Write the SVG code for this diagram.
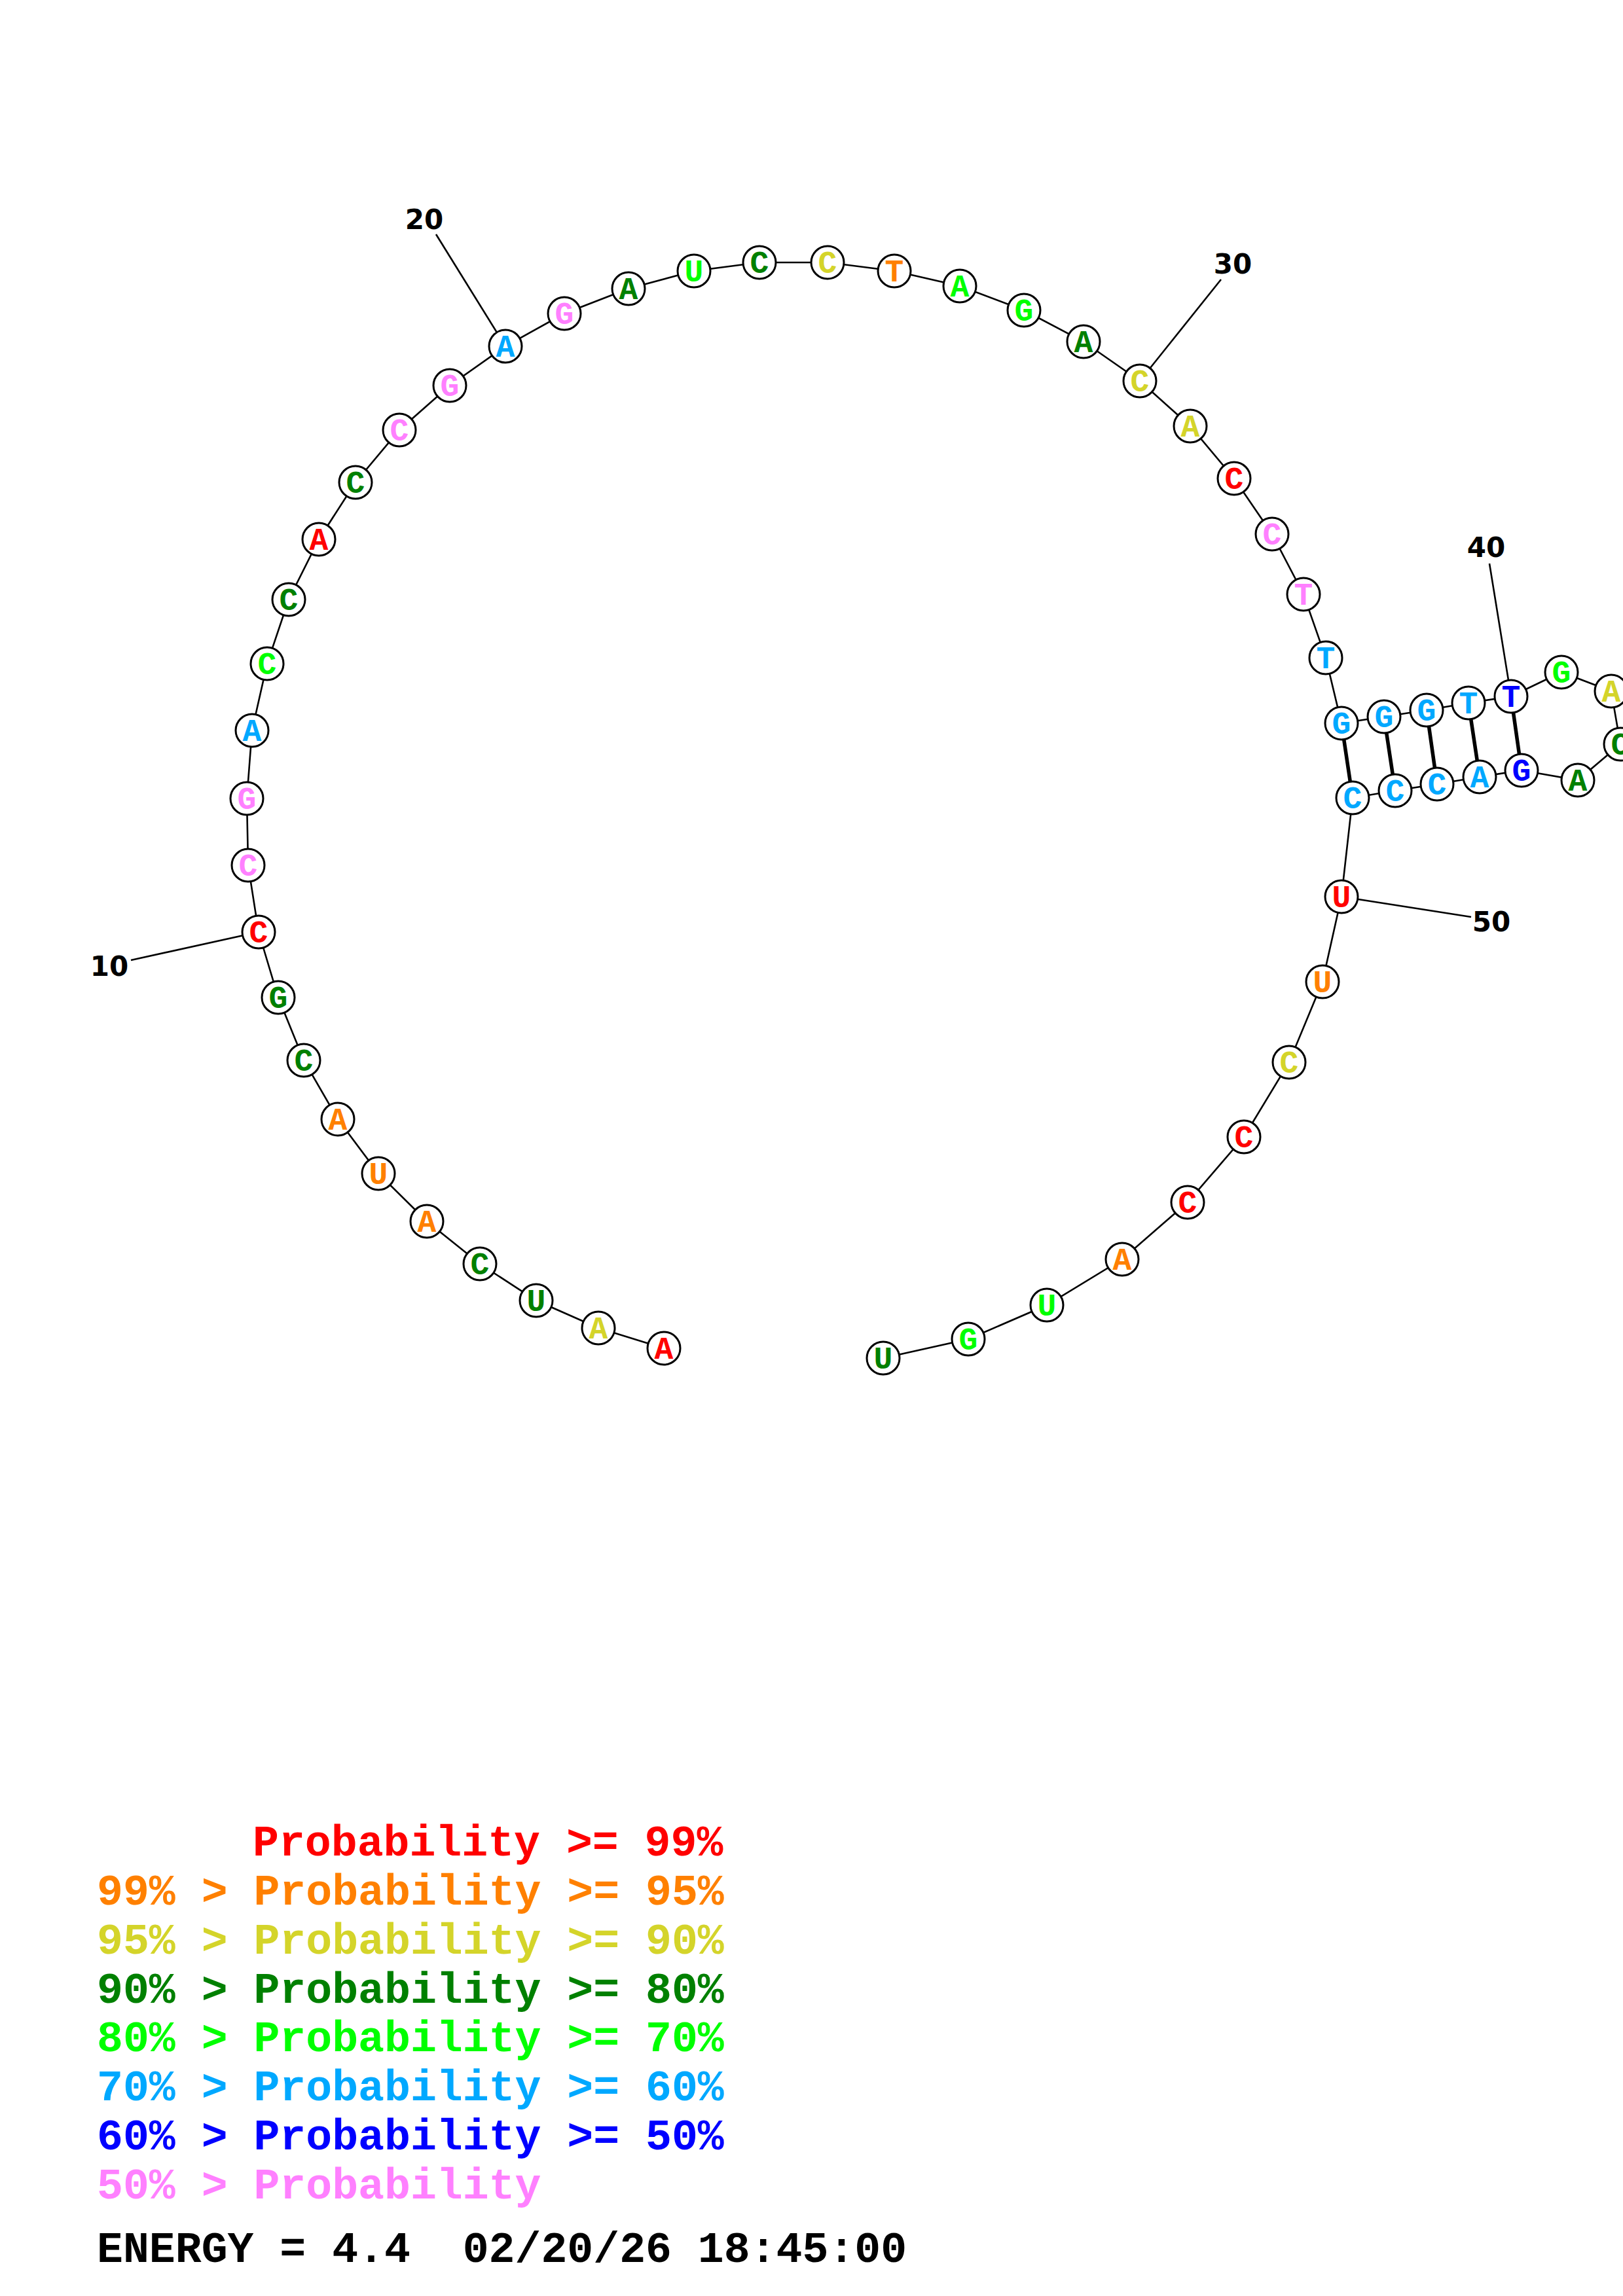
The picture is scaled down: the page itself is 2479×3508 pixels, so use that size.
<svg xmlns="http://www.w3.org/2000/svg" width="2479" height="3508" viewBox="0 0 2479 3508">
<style>
.bb{stroke:#000;stroke-width:2.6;fill:none}
.bp{stroke:#000;stroke-width:5.5;fill:none}
.tk{stroke:#000;stroke-width:2.6;fill:none}
circle{fill:#fff;stroke:#000;stroke-width:3}
.n text{font-family:"Liberation Mono","Courier New",monospace;font-weight:bold;font-size:48px;text-anchor:middle}
.num{font-family:"DejaVu Sans",sans-serif;font-weight:bold;font-size:42px;text-anchor:middle;fill:#000}
.lg{font-family:"Liberation Mono","Courier New",monospace;font-weight:bold;font-size:66.5px}
.r{fill:#FF0000}.o{fill:#FF8000}.y{fill:#D4D42A}.d{fill:#008000}.g{fill:#00FF00}.b{fill:#00A8FF}.u{fill:#0000FF}.p{fill:#FF80FF}.k{fill:#000}
</style>
<rect width="2479" height="3508" fill="#fff"/>
<g id="connectors">
<polyline class="bb" points="1014,2060 914,2029 819,1987 733,1931 652,1866 578,1793 516,1710 464,1620 425,1524 395,1424 379,1322 377,1220 385,1116 408,1014 441,916 487,824 543,737 610,657 687,589 772,529 862,479 960,441 1060,414 1160,401 1264,401 1366,414 1466,437 1564,474 1655,522 1741,582 1818,651 1885,731 1943,816 1991,908 2025,1005 2049,1105 2114,1095 2179,1085 2243,1074 2308,1064 2385,1027 2461,1056 2475,1137 2410,1192 2324,1177 2260,1187 2195,1198 2131,1208 2066,1219 2049,1370 2020,1500 1969,1623 1900,1737 1814,1837 1714,1924 1599,1994 1479,2046 1349,2075"/>
<line class="bp" x1="2049" y1="1105" x2="2066" y2="1219"/>
<line class="bp" x1="2114" y1="1095" x2="2131" y2="1208"/>
<line class="bp" x1="2179" y1="1085" x2="2195" y2="1198"/>
<line class="bp" x1="2243" y1="1074" x2="2260" y2="1187"/>
<line class="bp" x1="2308" y1="1064" x2="2324" y2="1177"/>
<line class="tk" x1="200" y1="1467" x2="395" y2="1424"/>
<line class="tk" x1="666" y1="358" x2="772" y2="529"/>
<line class="tk" x1="1865" y1="427" x2="1741" y2="582"/>
<line class="tk" x1="2275" y1="861" x2="2308" y2="1064"/>
<line class="tk" x1="2247" y1="1401" x2="2049" y2="1370"/>
</g>
<g id="n1" class="n"><circle cx="1014" cy="2060" r="25"/><text x="1014" y="2076" class="r">A</text></g>
<g id="n2" class="n"><circle cx="914" cy="2029" r="25"/><text x="914" y="2045" class="y">A</text></g>
<g id="n3" class="n"><circle cx="819" cy="1987" r="25"/><text x="819" y="2003" class="d">U</text></g>
<g id="n4" class="n"><circle cx="733" cy="1931" r="25"/><text x="733" y="1947" class="d">C</text></g>
<g id="n5" class="n"><circle cx="652" cy="1866" r="25"/><text x="652" y="1882" class="o">A</text></g>
<g id="n6" class="n"><circle cx="578" cy="1793" r="25"/><text x="578" y="1809" class="o">U</text></g>
<g id="n7" class="n"><circle cx="516" cy="1710" r="25"/><text x="516" y="1726" class="o">A</text></g>
<g id="n8" class="n"><circle cx="464" cy="1620" r="25"/><text x="464" y="1636" class="d">C</text></g>
<g id="n9" class="n"><circle cx="425" cy="1524" r="25"/><text x="425" y="1540" class="d">G</text></g>
<g id="n10" class="n"><circle cx="395" cy="1424" r="25"/><text x="395" y="1440" class="r">C</text></g>
<g id="n11" class="n"><circle cx="379" cy="1322" r="25"/><text x="379" y="1338" class="p">C</text></g>
<g id="n12" class="n"><circle cx="377" cy="1220" r="25"/><text x="377" y="1236" class="p">G</text></g>
<g id="n13" class="n"><circle cx="385" cy="1116" r="25"/><text x="385" y="1132" class="b">A</text></g>
<g id="n14" class="n"><circle cx="408" cy="1014" r="25"/><text x="408" y="1030" class="g">C</text></g>
<g id="n15" class="n"><circle cx="441" cy="916" r="25"/><text x="441" y="932" class="d">C</text></g>
<g id="n16" class="n"><circle cx="487" cy="824" r="25"/><text x="487" y="840" class="r">A</text></g>
<g id="n17" class="n"><circle cx="543" cy="737" r="25"/><text x="543" y="753" class="d">C</text></g>
<g id="n18" class="n"><circle cx="610" cy="657" r="25"/><text x="610" y="673" class="p">C</text></g>
<g id="n19" class="n"><circle cx="687" cy="589" r="25"/><text x="687" y="605" class="p">G</text></g>
<g id="n20" class="n"><circle cx="772" cy="529" r="25"/><text x="772" y="545" class="b">A</text></g>
<g id="n21" class="n"><circle cx="862" cy="479" r="25"/><text x="862" y="495" class="p">G</text></g>
<g id="n22" class="n"><circle cx="960" cy="441" r="25"/><text x="960" y="457" class="d">A</text></g>
<g id="n23" class="n"><circle cx="1060" cy="414" r="25"/><text x="1060" y="430" class="g">U</text></g>
<g id="n24" class="n"><circle cx="1160" cy="401" r="25"/><text x="1160" y="417" class="d">C</text></g>
<g id="n25" class="n"><circle cx="1264" cy="401" r="25"/><text x="1264" y="417" class="y">C</text></g>
<g id="n26" class="n"><circle cx="1366" cy="414" r="25"/><text x="1366" y="430" class="o">T</text></g>
<g id="n27" class="n"><circle cx="1466" cy="437" r="25"/><text x="1466" y="453" class="g">A</text></g>
<g id="n28" class="n"><circle cx="1564" cy="474" r="25"/><text x="1564" y="490" class="g">G</text></g>
<g id="n29" class="n"><circle cx="1655" cy="522" r="25"/><text x="1655" y="538" class="d">A</text></g>
<g id="n30" class="n"><circle cx="1741" cy="582" r="25"/><text x="1741" y="598" class="y">C</text></g>
<g id="n31" class="n"><circle cx="1818" cy="651" r="25"/><text x="1818" y="667" class="y">A</text></g>
<g id="n32" class="n"><circle cx="1885" cy="731" r="25"/><text x="1885" y="747" class="r">C</text></g>
<g id="n33" class="n"><circle cx="1943" cy="816" r="25"/><text x="1943" y="832" class="p">C</text></g>
<g id="n34" class="n"><circle cx="1991" cy="908" r="25"/><text x="1991" y="924" class="p">T</text></g>
<g id="n35" class="n"><circle cx="2025" cy="1005" r="25"/><text x="2025" y="1021" class="b">T</text></g>
<g id="n36" class="n"><circle cx="2049" cy="1105" r="25"/><text x="2049" y="1121" class="b">G</text></g>
<g id="n37" class="n"><circle cx="2114" cy="1095" r="25"/><text x="2114" y="1111" class="b">G</text></g>
<g id="n38" class="n"><circle cx="2179" cy="1085" r="25"/><text x="2179" y="1101" class="b">G</text></g>
<g id="n39" class="n"><circle cx="2243" cy="1074" r="25"/><text x="2243" y="1090" class="b">T</text></g>
<g id="n40" class="n"><circle cx="2308" cy="1064" r="25"/><text x="2308" y="1080" class="u">T</text></g>
<g id="n41" class="n"><circle cx="2385" cy="1027" r="25"/><text x="2385" y="1043" class="g">G</text></g>
<g id="n42" class="n"><circle cx="2461" cy="1056" r="25"/><text x="2461" y="1072" class="y">A</text></g>
<g id="n43" class="n"><circle cx="2475" cy="1137" r="25"/><text x="2475" y="1153" class="d">C</text></g>
<g id="n44" class="n"><circle cx="2410" cy="1192" r="25"/><text x="2410" y="1208" class="d">A</text></g>
<g id="n45" class="n"><circle cx="2324" cy="1177" r="25"/><text x="2324" y="1193" class="u">G</text></g>
<g id="n46" class="n"><circle cx="2260" cy="1187" r="25"/><text x="2260" y="1203" class="b">A</text></g>
<g id="n47" class="n"><circle cx="2195" cy="1198" r="25"/><text x="2195" y="1214" class="b">C</text></g>
<g id="n48" class="n"><circle cx="2131" cy="1208" r="25"/><text x="2131" y="1224" class="b">C</text></g>
<g id="n49" class="n"><circle cx="2066" cy="1219" r="25"/><text x="2066" y="1235" class="b">C</text></g>
<g id="n50" class="n"><circle cx="2049" cy="1370" r="25"/><text x="2049" y="1386" class="r">U</text></g>
<g id="n51" class="n"><circle cx="2020" cy="1500" r="25"/><text x="2020" y="1516" class="o">U</text></g>
<g id="n52" class="n"><circle cx="1969" cy="1623" r="25"/><text x="1969" y="1639" class="y">C</text></g>
<g id="n53" class="n"><circle cx="1900" cy="1737" r="25"/><text x="1900" y="1753" class="r">C</text></g>
<g id="n54" class="n"><circle cx="1814" cy="1837" r="25"/><text x="1814" y="1853" class="r">C</text></g>
<g id="n55" class="n"><circle cx="1714" cy="1924" r="25"/><text x="1714" y="1940" class="o">A</text></g>
<g id="n56" class="n"><circle cx="1599" cy="1994" r="25"/><text x="1599" y="2010" class="g">U</text></g>
<g id="n57" class="n"><circle cx="1479" cy="2046" r="25"/><text x="1479" y="2062" class="g">G</text></g>
<g id="n58" class="n"><circle cx="1349" cy="2075" r="25"/><text x="1349" y="2091" class="d">U</text></g>
<g id="labels">
<text class="num" x="167" y="1491">10</text>
<text class="num" x="648" y="350">20</text>
<text class="num" x="1883" y="418">30</text>
<text class="num" x="2270" y="851">40</text>
<text class="num" x="2278" y="1423">50</text>
</g>
<g id="legend" class="lg">
<text x="386" y="2835" class="r">Probability &gt;= 99%</text>
<text x="148" y="2910" class="o">99% &gt; Probability &gt;= 95%</text>
<text x="148" y="2985" class="y">95% &gt; Probability &gt;= 90%</text>
<text x="148" y="3060" class="d">90% &gt; Probability &gt;= 80%</text>
<text x="148" y="3134" class="g">80% &gt; Probability &gt;= 70%</text>
<text x="148" y="3209" class="b">70% &gt; Probability &gt;= 60%</text>
<text x="148" y="3284" class="u">60% &gt; Probability &gt;= 50%</text>
<text x="148" y="3359" class="p">50% &gt; Probability</text>
<text x="148" y="3456" class="k" xml:space="preserve">ENERGY = 4.4  02/20/26 18:45:00</text>
</g>
</svg>
